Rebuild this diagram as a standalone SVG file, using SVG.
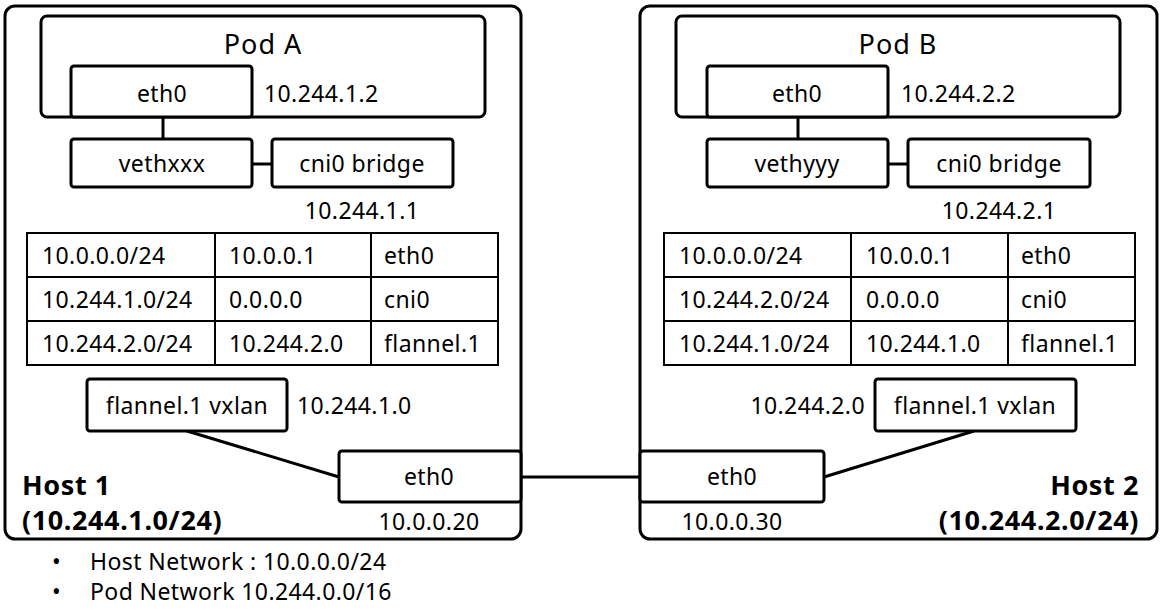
<svg xmlns="http://www.w3.org/2000/svg" width="1164" height="612" viewBox="0 0 1164 612">
<style>
text{font-family:"Noto Sans","Noto Sans CJK KR",sans-serif;font-size:23px;letter-spacing:0.4px;fill:#000;dominant-baseline:central}
.c{text-anchor:middle}
.e{text-anchor:end}
.b{font-weight:bold;font-size:27px;letter-spacing:0.6px}
.p{font-size:27px;letter-spacing:1px}
.host{fill:#fff;stroke:#000;stroke-width:3}
.box{fill:#fff;stroke:#000;stroke-width:3}
.tbl{fill:none;stroke:#000;stroke-width:2}
.ln{stroke:#000;stroke-width:3;fill:none}
</style>
<rect width="1164" height="612" fill="#fff"/>
<g id="host1">
<rect class="host" x="5" y="6" width="516" height="533" rx="10"/>
<text class="b" x="22" y="484">Host 1</text>
<text class="b" x="22" y="519">(10.244.1.0/24)</text>
</g>
<g id="host2">
<rect class="host" x="640" y="6" width="517" height="533" rx="10"/>
<text class="b e" x="1139" y="484">Host 2</text>
<text class="b e" x="1139" y="519">(10.244.2.0/24)</text>
</g>
<g id="connectors">
<line class="ln" x1="163" y1="118" x2="163" y2="139"/>
<line class="ln" x1="252" y1="164" x2="272" y2="164"/>
<line class="ln" x1="187" y1="431" x2="339" y2="477"/>
<line class="ln" x1="521" y1="477" x2="640" y2="477"/>
<line class="ln" x1="798" y1="118" x2="798" y2="139"/>
<line class="ln" x1="888" y1="164" x2="908" y2="164"/>
<line class="ln" x1="974" y1="431" x2="824" y2="477"/>
</g>
<g id="podA">
<rect class="box" x="41" y="16" width="444" height="101" rx="6"/>
<text class="c p" x="263" y="43">Pod A</text>
</g>
<g id="ethA">
<rect class="box" x="71" y="66" width="181" height="51" rx="3"/>
<text class="c" x="162" y="93">eth0</text>
<text x="264" y="93">10.244.1.2</text>
</g>
<g id="vethxxx">
<rect class="box" x="71" y="139" width="181" height="48" rx="3"/>
<text class="c" x="162" y="163">vethxxx</text>
</g>
<g id="cniA">
<rect class="box" x="272" y="139" width="181" height="48" rx="3"/>
<text class="c" x="362" y="163">cni0 bridge</text>
<text class="c" x="362" y="210">10.244.1.1</text>
</g>
<g id="tableA">
<rect class="tbl" x="27" y="233" width="471" height="132"/>
<line class="tbl" x1="27" y1="277" x2="498" y2="277"/>
<line class="tbl" x1="27" y1="321" x2="498" y2="321"/>
<line class="tbl" x1="215" y1="233" x2="215" y2="365"/>
<line class="tbl" x1="371" y1="233" x2="371" y2="365"/>
<text x="42" y="255">10.0.0.0/24</text>
<text x="229" y="255">10.0.0.1</text>
<text x="384" y="255">eth0</text>
<text x="42" y="299">10.244.1.0/24</text>
<text x="229" y="299">0.0.0.0</text>
<text x="384" y="299">cni0</text>
<text x="42" y="343">10.244.2.0/24</text>
<text x="229" y="343">10.244.2.0</text>
<text x="384" y="343">flannel.1</text>
</g>
<g id="flannelA">
<rect class="box" x="87" y="379" width="200" height="52" rx="3"/>
<text class="c" x="187" y="405">flannel.1 vxlan</text>
<text x="297" y="405">10.244.1.0</text>
</g>
<g id="eth0host1">
<rect class="box" x="339" y="451" width="182" height="51" rx="3"/>
<text class="c" x="429" y="476">eth0</text>
<text class="c" x="429" y="521">10.0.0.20</text>
</g>
<g id="podB">
<rect class="box" x="676" y="16" width="444" height="101" rx="6"/>
<text class="c p" x="898" y="43">Pod B</text>
</g>
<g id="ethB">
<rect class="box" x="707" y="66" width="181" height="51" rx="3"/>
<text class="c" x="797" y="93">eth0</text>
<text x="901" y="93">10.244.2.2</text>
</g>
<g id="vethyyy">
<rect class="box" x="707" y="139" width="181" height="48" rx="3"/>
<text class="c" x="797" y="163">vethyyy</text>
</g>
<g id="cniB">
<rect class="box" x="908" y="139" width="182" height="48" rx="3"/>
<text class="c" x="999" y="163">cni0 bridge</text>
<text class="c" x="999" y="210">10.244.2.1</text>
</g>
<g id="tableB">
<rect class="tbl" x="664" y="233" width="471" height="132"/>
<line class="tbl" x1="664" y1="277" x2="1135" y2="277"/>
<line class="tbl" x1="664" y1="321" x2="1135" y2="321"/>
<line class="tbl" x1="851" y1="233" x2="851" y2="365"/>
<line class="tbl" x1="1008" y1="233" x2="1008" y2="365"/>
<text x="679" y="255">10.0.0.0/24</text>
<text x="866" y="255">10.0.0.1</text>
<text x="1021" y="255">eth0</text>
<text x="679" y="299">10.244.2.0/24</text>
<text x="866" y="299">0.0.0.0</text>
<text x="1021" y="299">cni0</text>
<text x="679" y="343">10.244.1.0/24</text>
<text x="866" y="343">10.244.1.0</text>
<text x="1021" y="343">flannel.1</text>
</g>
<g id="flannelB">
<rect class="box" x="875" y="379" width="201" height="52" rx="3"/>
<text class="c" x="975" y="405">flannel.1 vxlan</text>
<text class="e" x="865" y="405">10.244.2.0</text>
</g>
<g id="eth0host2">
<rect class="box" x="640" y="451" width="184" height="51" rx="3"/>
<text class="c" x="732" y="476">eth0</text>
<text class="c" x="732" y="521">10.0.0.30</text>
</g>
<g id="legend">
<text x="52" y="561">•</text>
<text x="90" y="561">Host Network : 10.0.0.0/24</text>
<text x="52" y="591">•</text>
<text x="90" y="591">Pod Network 10.244.0.0/16</text>
</g>
</svg>
